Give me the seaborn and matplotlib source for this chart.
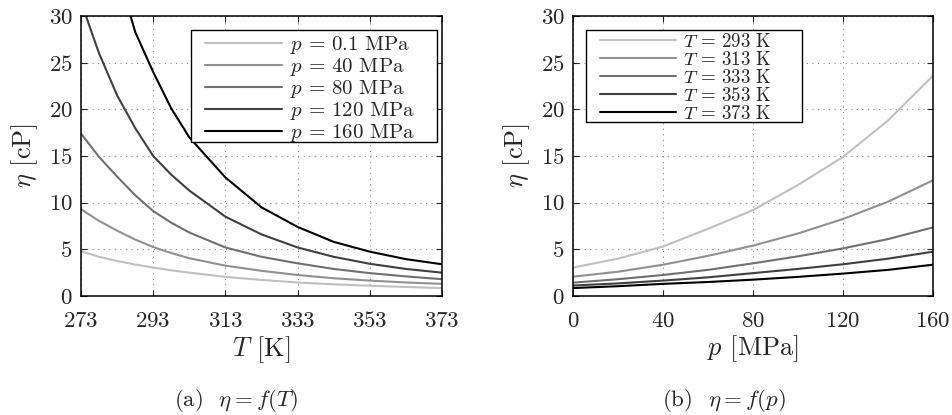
import numpy as np
import pandas as pd
import seaborn as sns
import matplotlib.pyplot as plt
from matplotlib.patches import Rectangle

# (a) viscosity vs temperature, one curve per pressure
T_vals = [273, 278, 283, 288, 293, 298, 303, 313, 323, 333, 343, 353, 363, 373]
eta_p01 = [4.8, 4.2, 3.75, 3.37, 3.05, 2.75, 2.5, 2.05, 1.72, 1.45, 1.25, 1.1, 0.97, 0.85]
eta_p40 = [9.3, 8.05, 7.0, 6.05, 5.25, 4.6, 4.05, 3.25, 2.7, 2.25, 1.9, 1.65, 1.45, 1.3]
eta_p80 = [17.4, 14.9, 12.8, 10.8, 9.1, 7.85, 6.8, 5.2, 4.2, 3.5, 2.9, 2.45, 2.1, 1.8]
eta_p120 = [31.5, 26.0, 21.5, 18.0, 15.0, 13.0, 11.3, 8.5, 6.6, 5.2, 4.2, 3.45, 2.9, 2.5]
eta_p160 = [55.0, 45.0, 35.0, 28.3, 24.0, 20.1, 17.0, 12.7, 9.5, 7.4, 5.8, 4.75, 3.95, 3.4]
p_labels = ['$p$ = 0.1 MPa', '$p$ = 40 MPa', '$p$ = 80 MPa', '$p$ = 120 MPa', '$p$ = 160 MPa']

# (b) viscosity vs pressure, one curve per temperature
p_vals = [0, 20, 40, 60, 80, 100, 120, 140, 160]
eta_T293 = [3.05, 4.0, 5.3, 7.2, 9.2, 11.9, 14.9, 18.8, 23.6]
eta_T313 = [2.07, 2.6, 3.35, 4.3, 5.4, 6.7, 8.25, 10.1, 12.4]
eta_T333 = [1.43, 1.8, 2.25, 2.8, 3.5, 4.25, 5.1, 6.1, 7.35]
eta_T353 = [1.12, 1.35, 1.65, 2.0, 2.45, 2.9, 3.4, 4.0, 4.75]
eta_T373 = [0.85, 1.05, 1.3, 1.5, 1.75, 2.05, 2.4, 2.8, 3.35]
T_labels = ['$T$ = 293 K', '$T$ = 313 K', '$T$ = 333 K', '$T$ = 353 K', '$T$ = 373 K']

grays = ['#c0c0c0', '#909090', '#707070', '#404040', '#000000']

df_a = pd.concat([pd.DataFrame({'x': T_vals, 'eta': v, 'curve': lab})
                  for v, lab in zip([eta_p01, eta_p40, eta_p80, eta_p120, eta_p160], p_labels)])
df_b = pd.concat([pd.DataFrame({'x': p_vals, 'eta': v, 'curve': lab})
                  for v, lab in zip([eta_T293, eta_T313, eta_T333, eta_T353, eta_T373], T_labels)])

sns.set_style('ticks')
plt.rcParams['font.family'] = 'serif'
plt.rcParams['font.serif'] = ['cmr10']
plt.rcParams['mathtext.fontset'] = 'cm'
plt.rcParams['axes.formatter.use_mathtext'] = True

fig = plt.figure(figsize=(9.53, 4.15), dpi=100)
ax1 = fig.add_axes([81 / 953, 119 / 415, 361 / 953, 280 / 415])
ax2 = fig.add_axes([573 / 953, 119 / 415, 360 / 953, 280 / 415])

sns.lineplot(data=df_a, x='x', y='eta', hue='curve', hue_order=p_labels,
             palette=grays, estimator=None, linewidth=1.5, ax=ax1)
sns.lineplot(data=df_b, x='x', y='eta', hue='curve', hue_order=T_labels,
             palette=grays, estimator=None, linewidth=1.5, ax=ax2)

for ax in (ax1, ax2):
    ax.set_ylim(0, 30)
    ax.set_yticks(range(0, 31, 5))
    ax.grid(True, linestyle=(0, (1, 4)), color='#888888', linewidth=0.8)
    ax.tick_params(direction='in', length=4, width=0.8, labelsize=16.5,
                   top=True, right=True)
    ax.tick_params(axis='x', pad=11)
    ax.tick_params(axis='y', pad=6)
    for s in ax.spines.values():
        s.set_linewidth(1.1)
        s.set_color('black')
    ax.set_ylabel(r'$\eta$ [cP]', fontsize=19, labelpad=6)

ax1.set_xlim(273, 373)
ax1.set_xticks(range(273, 374, 20))
ax1.set_xlabel(r'$T$ [K]', fontsize=19, labelpad=2)
ax2.set_xlim(0, 160)
ax2.set_xticks(range(0, 161, 40))
ax2.set_xlabel(r'$p$ [MPa]', fontsize=19, labelpad=2)

# MATLAB-style legend boxes: drawn as a white rectangle, legend text on top
ax1.add_patch(Rectangle((0.305, 0.55), 0.681, 0.40, transform=ax1.transAxes,
                        facecolor='white', edgecolor='black', linewidth=1.0, zorder=4))
ax2.add_patch(Rectangle((0.036, 0.621), 0.600, 0.329, transform=ax2.transAxes,
                        facecolor='white', edgecolor='black', linewidth=1.0, zorder=4))

h, l = ax1.get_legend_handles_labels()
leg1 = ax1.legend(h, l, loc='upper left', bbox_to_anchor=(0.344, 0.934),
                  borderaxespad=0, borderpad=0, fontsize=15, handlelength=3.7,
                  handletextpad=0.35, labelspacing=0.0, frameon=False)
leg1.set_zorder(5)

h, l = ax2.get_legend_handles_labels()
leg2 = ax2.legend(h, l, loc='upper left', bbox_to_anchor=(0.075, 0.94),
                  borderaxespad=0, borderpad=0, fontsize=13.6, handlelength=4.0,
                  handletextpad=0.4, labelspacing=0.0, frameon=False)
leg2.set_zorder(5)

fig.text(236 / 953, 1 - 400 / 415, r'(a)$\enspace\;\eta = f(T)$', ha='center', va='center', fontsize=16.5)
fig.text(724 / 953, 1 - 400 / 415, r'(b)$\enspace\;\eta = f(p)$', ha='center', va='center', fontsize=16.5)

fig.savefig('out.png', dpi=100)
